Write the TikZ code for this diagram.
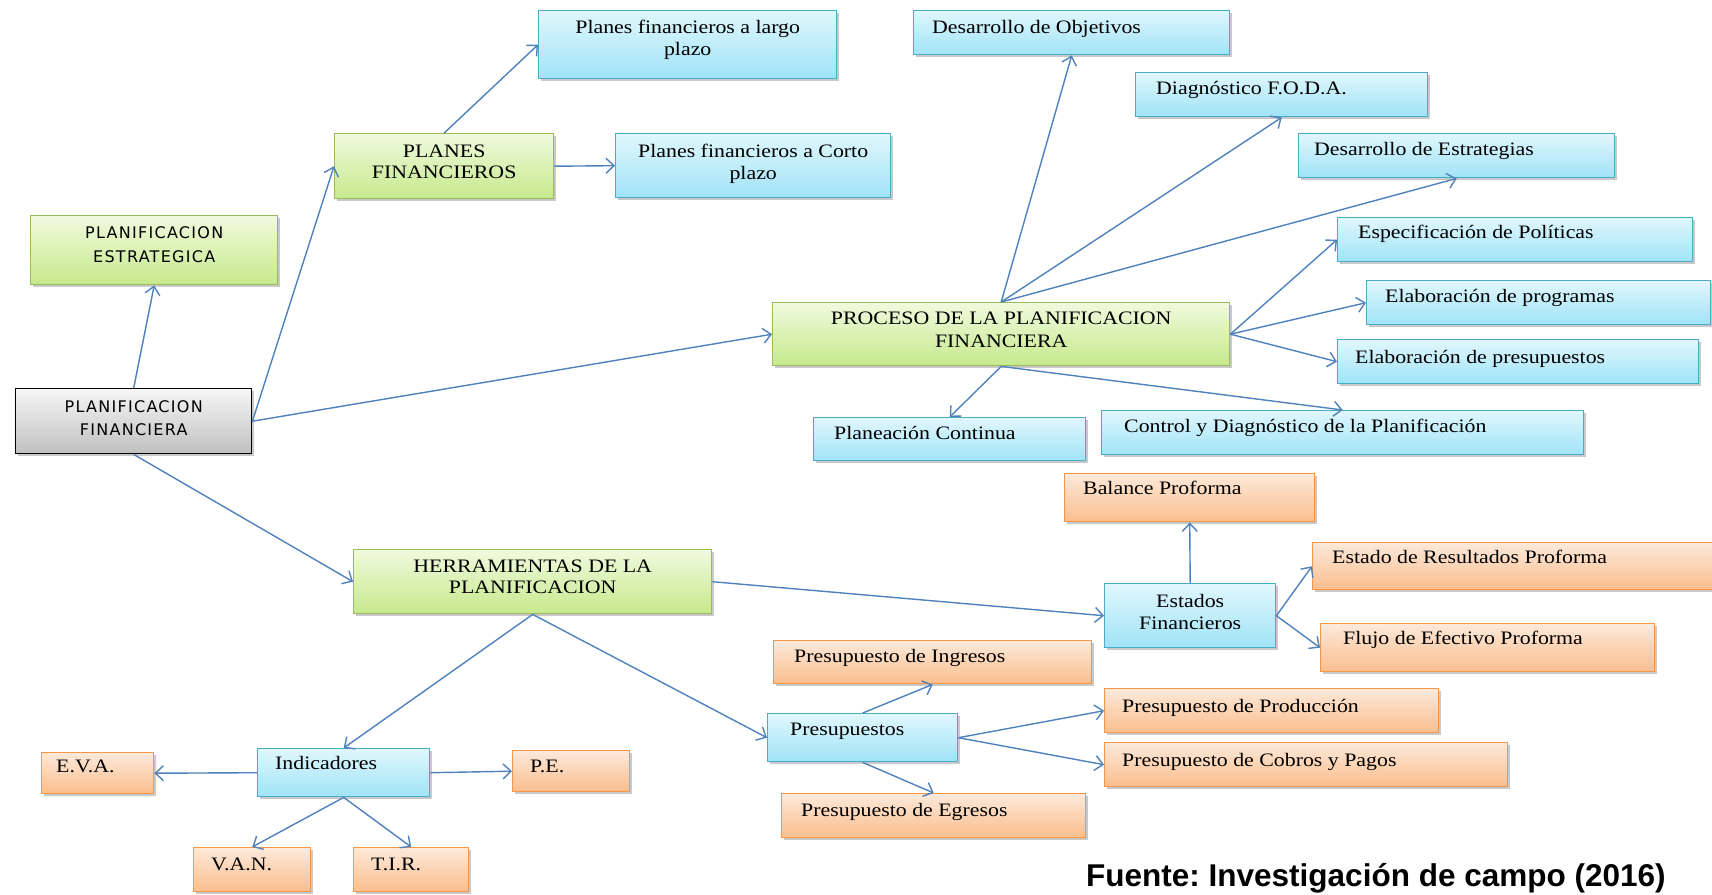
\documentclass[tikz,border=0pt]{standalone}
\usepackage{fontspec}
\setmainfont{Liberation Serif}
\newfontfamily\serifw{Liberation Serif}[FakeStretch=1.15]
\newfontfamily\sanslbl{DejaVu Sans}[LetterSpace=8]
\newfontfamily\srcfont{Liberation Sans}
\usetikzlibrary{arrows.meta,calc,shadows}
\frenchspacing
\definecolor{arrowc}{RGB}{79,129,189}
\definecolor{bluetop}{RGB}{224,247,253}
\definecolor{bluebot}{RGB}{160,227,247}
\definecolor{blueline}{RGB}{75,172,198}
\definecolor{greentop}{RGB}{240,250,222}
\definecolor{greenbot}{RGB}{198,233,140}
\definecolor{greenline}{RGB}{155,187,89}
\definecolor{orangetop}{RGB}{253,233,218}
\definecolor{orangebot}{RGB}{250,190,142}
\definecolor{orangeline}{RGB}{247,150,70}
\definecolor{graytop}{RGB}{246,246,246}
\definecolor{graybot}{RGB}{192,192,192}
\newcommand\bx[6]{\node[#1,anchor=north west,minimum width={(#5-#3)*1pt},minimum height={(#6-#4)*1pt}] (#2) at (#3,#4) {};}
\newcommand\ltxt[4]{\node[txt,anchor=base west] (#1-t) at ($(#1.north west)+(#2,#3)$) {#4};}
\newcommand\ctxt[6]{\node[#6,anchor=base] (#1-a) at ($(#1.north)+(0,#2)$) {#4};
  \node[#6,anchor=base] (#1-b) at ($(#1.north)+(0,#3)$) {#5};}
\begin{document}
\begin{tikzpicture}[x=1pt,y=-1pt,
  box/.style={draw,line width=1.4pt,inner sep=0pt,
    drop shadow={shadow xshift=2.5pt,shadow yshift=-2.5pt,opacity=0.3,fill=black!70}},
  bluebox/.style={box,draw=blueline,top color=bluetop,bottom color=bluebot},
  greenbox/.style={box,draw=greenline,top color=greentop,bottom color=greenbot},
  orangebox/.style={box,draw=orangeline,top color=orangetop,bottom color=orangebot},
  graybox/.style={box,draw=black,top color=graytop,bottom color=graybot},
  txt/.style={inner sep=0pt,font=\serifw\fontsize{19}{22}\selectfont},
  stxt/.style={inner sep=0pt,font=\sanslbl\fontsize{16}{20}\selectfont},
  arr/.style={draw=arrowc,line width=1.4pt,-{Straight Barb[length=8pt,width=15pt]}}]
\useasboundingbox (0,0) rectangle (1712,894);
% boxes
\bx{graybox}{pf}{15}{388}{251}{453}
\bx{greenbox}{pe}{30}{215}{277}{284}
\bx{greenbox}{planes}{334}{133}{553}{198}
\bx{bluebox}{largo}{538}{10}{836}{78}
\bx{bluebox}{corto}{615}{133}{890}{197}
\bx{bluebox}{obj}{913}{10}{1229}{54}
\bx{bluebox}{foda}{1135}{72}{1427}{116}
\bx{bluebox}{estr}{1298}{133}{1614}{177}
\bx{greenbox}{proc}{772}{302}{1229}{365}
\bx{bluebox}{espec}{1337}{217}{1692}{261}
\bx{bluebox}{prog}{1366}{280}{1710}{324}
\bx{bluebox}{elab}{1337}{339}{1698}{383}
\bx{bluebox}{plan}{813}{417}{1085}{460}
\bx{bluebox}{ctrl}{1101}{410}{1583}{454}
\bx{orangebox}{bal}{1064}{473}{1314}{521}
\bx{orangebox}{res}{1312}{542}{1718}{589}
\bx{bluebox}{estados}{1104}{583}{1275}{647}
\bx{orangebox}{flujo}{1320}{623}{1654}{671}
\bx{greenbox}{herr}{353}{549}{711}{613}
\bx{orangebox}{ing}{773}{640}{1091}{683}
\bx{bluebox}{pres}{767}{713}{957}{761}
\bx{orangebox}{prod}{1104}{688}{1438}{732}
\bx{orangebox}{cob}{1104}{742}{1507}{786}
\bx{orangebox}{egr}{781}{793}{1085}{837}
\bx{bluebox}{ind}{257}{748}{429}{796}
\bx{orangebox}{eva}{41}{752}{153}{793}
\bx{orangebox}{pee}{512}{750}{629}{791}
\bx{orangebox}{van}{193}{847}{310}{891}
\bx{orangebox}{tir}{353}{847}{468}{891}
% texts
\ctxt{pf}{24}{47}{PLANIFICACION}{FINANCIERA}{stxt}
\ctxt{pe}{23}{47}{PLANIFICACION}{ESTRATEGICA}{stxt}
\ctxt{planes}{24}{45}{PLANES}{FINANCIEROS}{txt}
\ctxt{largo}{23}{45}{Planes financieros a largo}{plazo}{txt}
\ctxt{corto}{24}{46}{Planes financieros a Corto}{plazo}{txt}
\ctxt{proc}{22}{45}{PROCESO DE LA PLANIFICACION}{FINANCIERA}{txt}
\ctxt{herr}{23}{44}{HERRAMIENTAS DE LA}{PLANIFICACION}{txt}
\ctxt{estados}{24}{46}{Estados}{Financieros}{txt}
\ltxt{obj}{19}{23}{Desarrollo de Objetivos}
\ltxt{foda}{21}{22}{Diagnóstico F.O.D.A.}
\ltxt{estr}{16}{22}{Desarrollo de Estrategias}
\ltxt{espec}{21}{21}{Especificación de Políticas}
\ltxt{prog}{19}{22}{Elaboración de programas}
\ltxt{elab}{18}{24}{Elaboración de presupuestos}
\ltxt{plan}{21}{22}{Planeación Continua}
\ltxt{ctrl}{23}{22}{Control y Diagnóstico de la Planificación}
\ltxt{bal}{19}{21}{Balance Proforma}
\ltxt{res}{20}{21}{Estado de Resultados Proforma}
\ltxt{flujo}{23}{21}{Flujo de Efectivo Proforma}
\ltxt{ing}{21}{22}{Presupuesto de Ingresos}
\ltxt{prod}{18}{24}{Presupuesto de Producción}
\ltxt{pres}{23}{22}{Presupuestos}
\ltxt{cob}{18}{24}{Presupuesto de Cobros y Pagos}
\ltxt{egr}{20}{23}{Presupuesto de Egresos}
\ltxt{ind}{18}{21}{Indicadores}
\ltxt{eva}{15}{20}{E.V.A.}
\ltxt{pee}{18}{22}{P.E.}
\ltxt{van}{18}{23}{V.A.N.}
\ltxt{tir}{18}{23}{T.I.R.}
\node[inner sep=0pt,anchor=base west,font=\srcfont\bfseries\fontsize{31.5}{36}\selectfont] (src) at (1086,886) {Fuente: Investigación de campo (2016)};
% connectors
\draw[arr] (pf.north) -- (pe.south);
\draw[arr] (pf.east) -- (planes.west);
\draw[arr] (pf.east) -- (proc.west);
\draw[arr] (pf.south) -- (herr.west);
\draw[arr] (planes.north) -- (largo.west);
\draw[arr] (planes.east) -- (corto.west);
\draw[arr] (proc.north) -- (obj.south);
\draw[arr] (proc.north) -- (foda.south);
\draw[arr] (proc.north) -- (estr.south);
\draw[arr] (proc.east) -- (espec.west);
\draw[arr] (proc.east) -- (prog.west);
\draw[arr] (proc.east) -- (elab.west);
\draw[arr] (proc.south) -- (plan.north);
\draw[arr] (proc.south) -- (ctrl.north);
\draw[arr] (herr.east) -- (estados.west);
\draw[arr] (herr.south) -- (ind.north);
\draw[arr] (herr.south) -- (pres.west);
\draw[arr] (estados.north) -- (bal.south);
\draw[arr] (estados.east) -- (res.west);
\draw[arr] (estados.east) -- (flujo.west);
\draw[arr] (pres.north) -- (ing.south);
\draw[arr] (pres.east) -- (prod.west);
\draw[arr] (pres.east) -- (cob.west);
\draw[arr] (pres.south) -- (egr.north);
\draw[arr] (ind.west) -- (eva.east);
\draw[arr] (ind.east) -- (pee.west);
\draw[arr] (ind.south) -- (van.north);
\draw[arr] (ind.south) -- (tir.north);
\end{tikzpicture}
\end{document}
